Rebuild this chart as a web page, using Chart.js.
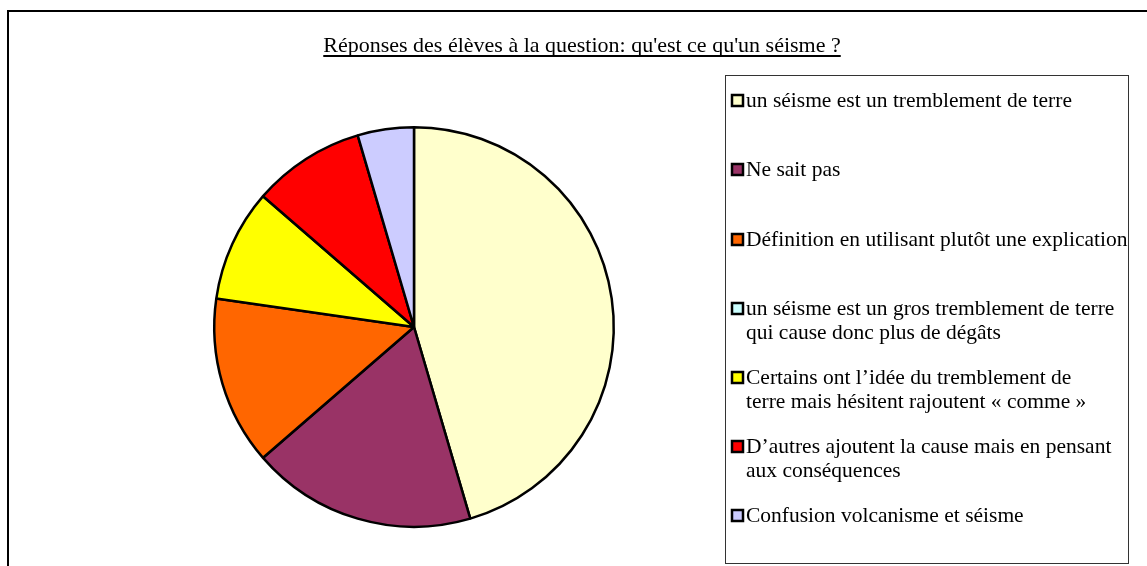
<!DOCTYPE html>
<html>
<head>
<meta charset="utf-8">
<script src="https://cdn.jsdelivr.net/npm/chart.js@4/dist/chart.umd.min.js"></script>
<style>
  html, body { margin: 0; padding: 0; background: #fff; }
  #wrap { width: 1147px; height: 566px; position: relative; }
</style>
</head>
<body>
<div id="wrap"><canvas id="pie"></canvas></div>
<script>
// Data (counts of pupils)
const titleText = "Réponses des élèves à la question: qu'est ce qu'un séisme ?";
const categories = [
  ['un séisme est un tremblement de terre'],
  ['Ne sait pas'],
  ['Définition en utilisant plutôt une explication'],
  ['un séisme est un gros tremblement de terre', 'qui cause donc plus de dégâts'],
  ['Certains ont l\u2019idée du tremblement de', 'terre mais hésitent rajoutent « comme »'],
  ['D\u2019autres ajoutent la cause mais en pensant', 'aux conséquences'],
  ['Confusion volcanisme et séisme']
];
const counts = [10, 4, 3, 0, 2, 2, 1];
const colors = ['#FFFFCC', '#993366', '#FF6600', '#CCFFFF', '#FFFF00', '#FF0000', '#CCCCFF'];

const FONT = '"Liberation Serif", "Times New Roman", serif';

// frame, title and legend box drawn around the pie
const decorPlugin = {
  id: 'decor',
  beforeDraw(chart) {
    const ctx = chart.ctx;
    ctx.save();
    ctx.fillStyle = '#fff';
    ctx.fillRect(0, 0, chart.width, chart.height);
    ctx.strokeStyle = '#000';
    ctx.lineWidth = 2;
    ctx.beginPath();
    ctx.moveTo(8, chart.height + 2);
    ctx.lineTo(8, 11);
    ctx.lineTo(chart.width + 2, 11);
    ctx.stroke();
    ctx.restore();
  },
  afterDraw(chart) {
    const ctx = chart.ctx;
    ctx.save();
    // title
    ctx.font = '22px ' + FONT;
    ctx.fillStyle = '#000';
    ctx.textAlign = 'center';
    ctx.textBaseline = 'alphabetic';
    const tx = 582, ty = 52;
    ctx.fillText(titleText, tx, ty);
    const tw = ctx.measureText(titleText).width;
    ctx.fillRect(tx - tw / 2, ty + 3, tw, 2);

    // legend box
    ctx.strokeStyle = '#333';
    ctx.lineWidth = 1;
    ctx.strokeRect(725.5, 75.5, 403, 488);

    const rowY = [100, 169, 239, 308, 377, 446, 515];
    ctx.font = '21.5px ' + FONT;
    ctx.textAlign = 'left';
    ctx.textBaseline = 'middle';
    categories.forEach((lines, i) => {
      const y = rowY[i];
      ctx.fillStyle = colors[i];
      ctx.fillRect(732, y - 5, 11, 11);
      ctx.strokeStyle = '#000';
      ctx.lineWidth = 2.5;
      ctx.strokeRect(732, y - 5, 11, 11);
      ctx.fillStyle = '#000';
      lines.forEach((line, j) => {
        ctx.fillText(line, 746, y + 1 + j * 24);
      });
    });
    ctx.restore();
  }
};

new Chart(document.getElementById('pie'), {
  type: 'pie',
  data: {
    labels: categories,
    datasets: [{
      data: counts,
      backgroundColor: colors,
      borderColor: '#000',
      borderWidth: 2.5,
      borderAlign: 'center'
    }]
  },
  options: {
    responsive: true,
    maintainAspectRatio: false,
    animation: false,
    layout: {
      padding: { left: 213, right: 532, top: 126, bottom: 38 }
    },
    plugins: {
      legend: { display: false },
      title: { display: false },
      tooltip: { enabled: false }
    }
  },
  plugins: [decorPlugin]
});
</script>
</body>
</html>
